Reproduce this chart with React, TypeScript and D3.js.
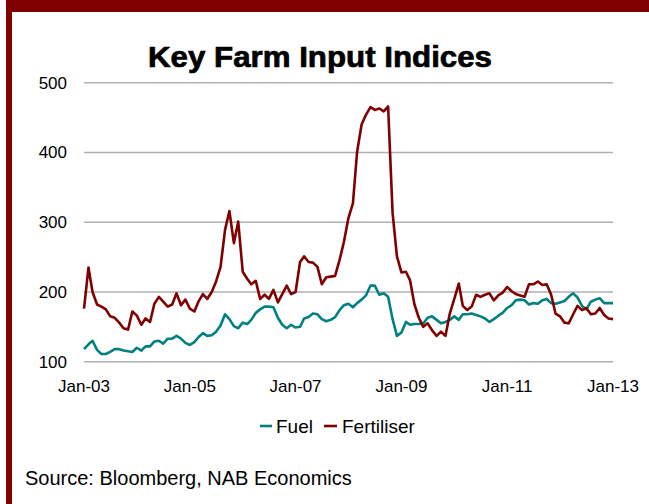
import React from "react";
import * as d3 from "d3";

const START = new Date(2003, 0, 1);
const END = new Date(2013, 0, 1);

const fuel = [
  118, 125, 130, 117, 111, 111, 114, 118, 118, 116, 115, 114,
  120, 116, 122, 122, 129, 130, 126, 133, 133, 137, 133, 127,
  124, 128, 135, 141, 137, 138, 143, 152, 168, 161, 151, 148,
  156, 154, 160, 170, 175, 179, 179, 178, 163, 153, 148, 153,
  149, 150, 162, 164, 169, 168, 161, 158, 160, 164, 174, 181,
  183, 178, 184, 189, 195, 209, 209, 196, 198, 193, 161, 137,
  142, 157, 153, 154, 154, 155, 163, 165, 160, 155, 157, 160,
  165, 160, 168, 168, 169, 167, 165, 162, 157, 161, 166, 170,
  177, 181, 188, 189, 188, 182, 184, 183, 188, 190, 184, 183,
  185, 187, 193, 198, 192, 180, 175, 186, 189, 191, 184, 184,
  184,
];

const fertiliser = [
  176, 235, 200, 182, 179, 175, 165, 163, 156, 148, 146, 172,
  166, 153, 162, 157, 183, 193, 186, 179, 182, 198, 181, 189,
  176, 172, 186, 197, 190, 200, 215, 236, 289, 316, 270, 301,
  229, 219, 211, 216, 190, 196, 190, 203, 185, 197, 209, 197,
  200, 243, 251, 243, 242, 236, 211, 221, 222, 223, 246, 272,
  306, 327, 401, 440, 454, 465, 461, 463, 459, 466, 313, 251,
  228, 229, 217, 182, 163, 150, 155, 145, 137, 143, 137, 169,
  190, 212, 180, 174, 179, 196, 193, 196, 198, 188, 195, 199,
  207, 201, 197, 195, 193, 211, 211, 215, 210, 211, 196, 169,
  165, 156, 155, 168, 180, 174, 177, 168, 169, 177, 167, 162,
  161,
];

const months = fuel.map((_, i) => d3.timeMonth.offset(START, i));
const yTicks = [100, 200, 300, 400, 500];
const xTicks = [2003, 2005, 2007, 2009, 2011, 2013].map((y) => new Date(y, 0, 1));
const seriesNames = ["Fuel", "Fertiliser"];
const seriesColors = ["#008080", "#800000"];
const title = "Key Farm Input Indices";
const source = "Source: Bloomberg, NAB Economics";

const FONT = "'Liberation Sans', Arial, sans-serif";

export default function App() {
  const x = d3.scaleTime().domain([START, END]).range([84, 613]);
  const y = d3.scaleLinear().domain([100, 500]).range([361.7, 82.7]);
  const fmt = d3.timeFormat("%b-%y");
  const line = d3
    .line<number>()
    .x((_, i) => x(months[i]))
    .y((d) => y(d));
  const series = [fuel, fertiliser];

  return (
    <svg
      width={649}
      height={504}
      style={{ position: "absolute", left: 0, top: 0, background: "#fff" }}
      fontFamily={FONT}
    >
      <rect x={0} y={0} width={649} height={504} fill="#fff" />
      {/* frame */}
      <rect x={6} y={0} width={643} height={12} fill="#800000" />
      <rect x={6} y={0} width={6} height={504} fill="#800000" />

      {/* title */}
      <text
        x={320}
        y={67}
        textAnchor="middle"
        fontSize={29}
        fontWeight="bold"
        fill="#000"
        stroke="#000"
        strokeWidth={0.7}
        textLength={344}
        lengthAdjust="spacingAndGlyphs"
      >
        {title}
      </text>

      {/* grid */}
      {yTicks.map((t) => (
        <g key={t}>
          <line x1={84} x2={613} y1={y(t)} y2={y(t)} stroke="#b0b0b0" strokeWidth={1.4} />
          <text x={67} y={y(t)} dy="0.35em" textAnchor="end" fontSize={17} fill="#000">
            {t}
          </text>
        </g>
      ))}

      {/* x labels */}
      {xTicks.map((t) => (
        <text key={+t} x={x(t)} y={392} textAnchor="middle" fontSize={17} fill="#000">
          {fmt(t)}
        </text>
      ))}

      {/* lines */}
      {series.map((s, k) => (
        <path
          key={k}
          d={line(s) || ""}
          fill="none"
          stroke={seriesColors[k]}
          strokeWidth={2.6}
          strokeLinejoin="round"
        />
      ))}

      {/* legend */}
      <line x1={260} x2={272} y1={426} y2={426} stroke={seriesColors[0]} strokeWidth={2.6} />
      <text x={276} y={426} dy="0.35em" fontSize={19} fill="#000">
        {seriesNames[0]}
      </text>
      <line x1={324} x2={337} y1={426} y2={426} stroke={seriesColors[1]} strokeWidth={2.6} />
      <text x={342} y={426} dy="0.35em" fontSize={19} fill="#000">
        {seriesNames[1]}
      </text>

      {/* source */}
      <text x={25} y={478} dy="0.35em" fontSize={20} fill="#000">
        {source}
      </text>
    </svg>
  );
}
